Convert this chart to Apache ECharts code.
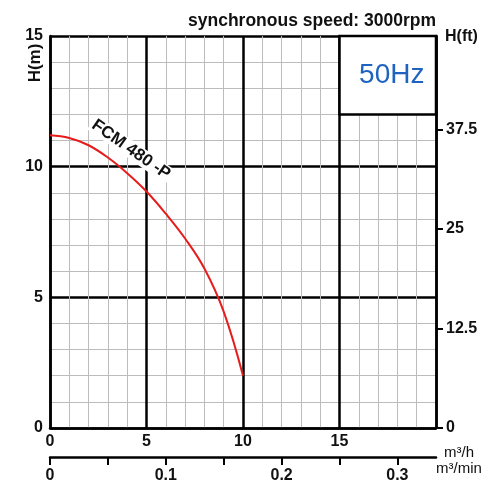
<!DOCTYPE html>
<html>
<head>
<meta charset="utf-8">
<script src="https://cdn.jsdelivr.net/npm/echarts@6/dist/echarts.min.js"></script>
<style>
  html, body { margin: 0; padding: 0; background: #fff; }
  #chart { width: 495px; height: 490px; }
</style>
</head>
<body>
<div id="chart"></div>
<script>
// Q-H curve (Q in m3/h, H in m)
var flowM3h = [0, 1, 2, 3, 4, 5, 6, 7, 8, 9, 10];
var headM = [11.2, 11.1, 10.82, 10.35, 9.75, 9.05, 8.2, 7.25, 6.1, 4.45, 2.0];

// tick labels
var flowTicks = [0, 5, 10, 15];
var headTicks = [0, 5, 10, 15];
var feetTicks = [0, 12.5, 25, 37.5];
var minTicks = [0, 0.05, 0.1, 0.15, 0.2, 0.25, 0.3];
var minLabels = [0, 0.1, 0.2, 0.3];

// 50Hz box corners and curve label spot (data coords)
var boxCorners = [[15, 12], [20, 15]];
var curveName = 'FCM 480 -P';
var labelAt = [4.2, 10.65];

var FONT = '"Liberation Sans", Arial, sans-serif';
var M_TO_FT = 3.28084;

var chart = echarts.init(document.getElementById('chart'));

var black = { color: '#000', width: 2.5 };
var tickFont = { fontFamily: FONT, fontSize: 16, fontWeight: 'bold', color: '#111' };

var option = {
  animation: false,
  backgroundColor: '#fff',
  grid: { left: 50, right: 59, top: 36, bottom: 62, containLabel: false },
  xAxis: [
    {
      type: 'value', min: 0, max: 20, interval: 5,
      axisLine: { show: true, onZero: false, lineStyle: black },
      axisTick: { show: false },
      axisLabel: Object.assign({ customValues: flowTicks, margin: 6 }, tickFont),
      splitLine: { show: true, lineStyle: black },
      minorTick: { show: false, splitNumber: 5 },
      minorSplitLine: { show: true, lineStyle: { color: '#bcbcbc', width: 1 } }
    },
    {
      type: 'value', position: 'bottom', offset: 29, min: 0, max: 20 / 60,
      axisLine: { show: true, onZero: false, lineStyle: black },
      axisTick: { show: true, customValues: minTicks, length: 8, lineStyle: { color: '#000', width: 2 } },
      axisLabel: Object.assign({ customValues: minLabels, margin: 11 }, tickFont),
      splitLine: { show: false }
    }
  ],
  yAxis: [
    {
      type: 'value', min: 0, max: 15, interval: 5,
      axisLine: { show: true, onZero: false, lineStyle: black },
      axisTick: { show: false },
      axisLabel: Object.assign({ customValues: headTicks, margin: 7 }, tickFont),
      splitLine: { show: true, lineStyle: black },
      minorTick: { show: false, splitNumber: 5 },
      minorSplitLine: { show: true, lineStyle: { color: '#bcbcbc', width: 1 } }
    },
    {
      type: 'value', position: 'right', min: 0, max: 15 * M_TO_FT,
      axisLine: { show: true, onZero: false, lineStyle: black },
      axisTick: { show: true, customValues: feetTicks, length: 7, lineStyle: { color: '#000', width: 2 } },
      axisLabel: Object.assign({ customValues: feetTicks, margin: 10 }, tickFont),
      splitLine: { show: false }
    }
  ],
  series: [
    {
      type: 'line',
      name: curveName,
      xAxisIndex: 0, yAxisIndex: 0,
      data: flowM3h.map(function (q, i) { return [q, headM[i]]; }),
      smooth: 0.4,
      symbol: 'none',
      lineStyle: { color: '#e61c1c', width: 2 },
      z: 5,
      markArea: {
        silent: true,
        itemStyle: { color: '#fff', borderColor: '#000', borderWidth: 2.5 },
        label: {
          show: true, position: 'inside', formatter: '50Hz',
          fontFamily: FONT, fontSize: 28, color: '#1f63c0', offset: [4, 0]
        },
        data: [[{ coord: boxCorners[0] }, { coord: boxCorners[1] }]]
      }
    }
  ]
};
chart.setOption(option);

var lp = chart.convertToPixel({ xAxisIndex: 0, yAxisIndex: 0 }, labelAt);

chart.setOption({
  graphic: [
    {
      type: 'text', right: 59, top: 12,
      style: { text: 'synchronous speed: 3000rpm', fontFamily: FONT, fontSize: 17.5, fontWeight: 'bold', fill: '#111' }
    },
    {
      type: 'text', x: 35, y: 63, rotation: Math.PI / 2,
      style: { text: 'H(m)', fontFamily: FONT, fontSize: 17, fontWeight: 'bold', fill: '#111', align: 'center', verticalAlign: 'middle' }
    },
    {
      type: 'text', x: 445, y: 37,
      style: { text: 'H(ft)', fontFamily: FONT, fontSize: 16, fontWeight: 'bold', fill: '#111', align: 'left', verticalAlign: 'middle' }
    },
    {
      type: 'text', x: 459, y: 453,
      style: { text: 'm³/h', fontFamily: FONT, fontSize: 15, fill: '#111', align: 'center', verticalAlign: 'middle' }
    },
    {
      type: 'text', x: 459, y: 469,
      style: { text: 'm³/min', fontFamily: FONT, fontSize: 15, fill: '#111', align: 'center', verticalAlign: 'middle' }
    },
    {
      type: 'text', x: lp[0], y: lp[1], rotation: -35 * Math.PI / 180, z: 10,
      style: {
        text: curveName, fontFamily: FONT, fontSize: 17, fontWeight: 'bold', fill: '#111',
        align: 'center', verticalAlign: 'middle', backgroundColor: '#fff', padding: [0, 2]
      }
    }
  ]
});
</script>
</body>
</html>
